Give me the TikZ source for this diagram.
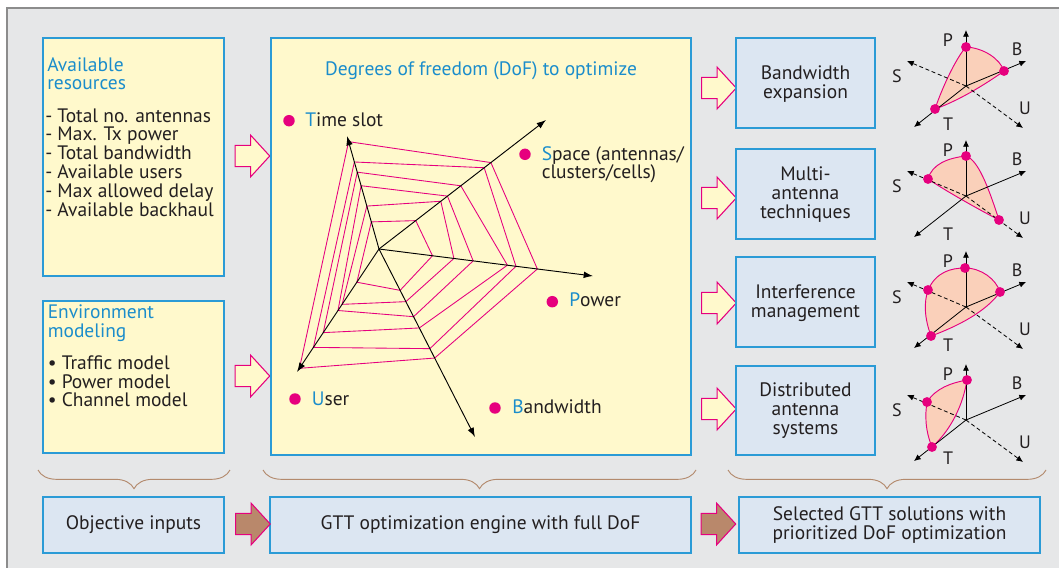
\documentclass[tikz,border=0pt]{standalone}
\usepackage{fontspec}
\setmainfont{PT Sans}
\usetikzlibrary{positioning, calc, arrows.meta, shapes.arrows, decorations.pathreplacing}

\definecolor{bggray}{HTML}{E6E7E8}
\definecolor{framegray}{HTML}{8C8C8C}
\definecolor{paleyellow}{HTML}{FFF9CC}
\definecolor{boxblue}{HTML}{2B9BD6}
\definecolor{txtblue}{HTML}{1B8DCB}
\definecolor{paleblue}{HTML}{DCE6F2}
\definecolor{webpink}{HTML}{E6007E}
\definecolor{peach}{HTML}{FAD0BA}
\definecolor{arrowbrown}{HTML}{B9886B}
\definecolor{bracebrown}{HTML}{B38A6D}
\definecolor{darktext}{HTML}{231F20}

\begin{document}
\begin{tikzpicture}[
        x=0.75pt, y=-0.75pt,
        font=\fontsize{14.6}{14.2}\selectfont,
        text=darktext,
        inbox/.style={draw=boxblue, fill=paleyellow, line width=1pt},
        outbox/.style={draw=boxblue, fill=paleblue, line width=1pt},
        boxtitle/.style={text=txtblue, anchor=base west, inner sep=0pt},
        boxline/.style={anchor=base west, inner sep=0pt},
        boxtext/.style={align=center, inner sep=0pt},
        blockarrow/.style={
            single arrow, draw=webpink, fill=paleyellow, line width=0.8pt,
            minimum height=26pt, inner xsep=0pt, inner ysep=7.6pt,
            single arrow head extend=7.6pt, single arrow tip angle=95,
            outer sep=0pt
        },
        stagearrow/.style={blockarrow, fill=arrowbrown},
        radaraxis/.style={draw=black, line width=0.7pt, -{Latex[length=7pt, width=5pt]}},
        web/.style={draw=webpink, line width=0.65pt},
        dof/.style={anchor=base west, inner sep=0pt},
        miniaxis/.style={draw=black, line width=0.6pt, -{Latex[length=5pt, width=4.5pt]}},
        minidash/.style={miniaxis, dash pattern=on 3pt off 2pt},
        region/.style={draw=webpink, fill=peach, line width=0.7pt},
        minilabel/.style={font=\fontsize{13.5}{13}\selectfont, inner sep=0pt},
        grouping/.style={
            draw=bracebrown, line width=0.7pt,
            decorate, decoration={brace, mirror, amplitude=14pt}
        }
    ]

        \useasboundingbox (0,0) rectangle (1059,567);
        \clip (0,0) rectangle (1059,567);

        % Background panel
        \draw[draw=framegray, line width=1.5pt, fill=bggray] (7,8) rectangle (1075,585);

        % Available resources
        \draw[inbox] (43,38) rectangle (224,276);
        \node[boxtitle] (restitle) at (47,71) {Available};
        \node[boxtitle] (restitle2) at (47,89.5) {resources};
        \foreach \txt [count=\k] in {Total no. antennas, Max. Tx power, Total bandwidth,
                Available users, Max allowed delay, Available backhaul}
            \node[boxline] (res\k) at (45,103.2+18.8*\k) {- \txt};

        % Environment modeling
        \draw[inbox] (43,301) rectangle (224,453);
        \node[boxtitle] (envtitle) at (47.5,318.5) {Environment};
        \node[boxtitle] (envtitle2) at (47.5,337) {modeling};
        \foreach \txt [count=\k] in {Traffic model, Power model, Channel model}
            \node[boxline] (env\k) at (47.5,350.5+18.8*\k) {\textbullet\ \txt};

        % Input arrows
        \node[blockarrow] (ia1) at (247.5,156) {};
        \node[blockarrow] (ia2) at (247.5,376) {};

        % Degrees of freedom box
        \draw[inbox] (271,38) rectangle (691,455);
        \node[text=txtblue, anchor=base, inner sep=0pt] (doftitle) at (481,75.5)
            {Degrees of freedom (DoF) to optimize};

        % Radar axes end points
        \coordinate (c) at (379,249);
        \coordinate (tT) at (347,136);
        \coordinate (tS) at (546,120);
        \coordinate (tP) at (593,276);
        \coordinate (tB) at (475,437);
        \coordinate (tU) at (297,372);

        % Web: fractions along T, S, P, B, U
        \foreach \ft/\fs/\fp/\fb/\fu in {0.95/0.67/0.74/0.58/0.97, 0.77/0.63/0.64/0.53/0.80,
                0.68/0.49/0.60/0.42/0.68, 0.56/0.41/0.44/0.36/0.50,
                0.38/0.37/0.35/0.28/0.45, 0.24/0.22/0.25/0.22/0.27}
            \draw[web] ($(c)!\ft!(tT)$) -- ($(c)!\fs!(tS)$) -- ($(c)!\fp!(tP)$)
                -- ($(c)!\fb!(tB)$) -- ($(c)!\fu!(tU)$) -- cycle;

        \foreach \t in {tT,tS,tP,tB,tU}
            \draw[radaraxis] (c) -- (\t);

        % DoF labels
        \fill[webpink] (289,120.7) circle (4.3pt);
        \node[dof] (time) at (305,126.5) {\textcolor{txtblue}{T}ime slot};
        \fill[webpink] (525,154.3) circle (4.3pt);
        \node[dof] (space) at (541.5,160) {\textcolor{txtblue}{S}pace (antennas/};
        \node[dof] (space2) at (541.5,178.5) {clusters/cells)};
        \fill[webpink] (552.3,301.7) circle (4.3pt);
        \node[dof] (power) at (569,306.7) {\textcolor{txtblue}{P}ower};
        \fill[webpink] (295,399) circle (4.3pt);
        \node[dof] (user) at (311.7,405) {\textcolor{txtblue}{U}ser};
        \fill[webpink] (495,408) circle (4.3pt);
        \node[dof] (bandw) at (512,413.3) {\textcolor{txtblue}{B}andwidth};

        % Output arrows
        \foreach \ay [count=\k] in {88,198,303,409}
            \node[blockarrow] (oa\k) at (714,\ay) {};

        % Technique boxes
        \draw[outbox] (736,38) rectangle (875,128);
        \node[boxtext] (bwexp) at (805.5,84) {Bandwidth\\expansion};
        \draw[outbox] (736,149) rectangle (875,239);
        \node[boxtext] (multi) at (805.5,194.5) {Multi-\\antenna\\techniques};
        \draw[outbox] (736,257) rectangle (875,347);
        \node[boxtext] (interf) at (805.5,303) {Interference\\management};
        \draw[outbox] (736,366) rectangle (875,455);
        \node[boxtext] (distr) at (805.5,411) {Distributed\\antenna\\systems};

        % Shaded regions of the small DoF diagrams
        \begin{scope}[shift={(966,86)}]
            \draw[region] (0,-39) .. controls (18,-38) and (34,-27) .. (38,-15)
                .. controls (20,-2) and (-8,15) .. (-31,23)
                .. controls (-24,2) and (-10,-28) .. (0,-39) -- cycle;
        \end{scope}
        \begin{scope}[shift={(966,196)}]
            \draw[region] (-38,-17) .. controls (-34,-32) and (-18,-38) .. (0,-40)
                .. controls (12,-36) and (22,-10) .. (33,24)
                .. controls (10,12) and (-20,-5) .. (-38,-17) -- cycle;
        \end{scope}
        \begin{scope}[shift={(966,307)}]
            \draw[region] (-38,-17) .. controls (-30,-35) and (-15,-39) .. (-1,-39)
                .. controls (15,-39) and (30,-28) .. (34,-15)
                .. controls (20,5) and (-10,20) .. (-35,29)
                .. controls (-42,10) and (-42,-5) .. (-38,-17) -- cycle;
        \end{scope}
        \begin{scope}[shift={(966,420)}]
            \draw[region] (-39,-18) .. controls (-30,-32) and (-15,-37) .. (1,-40)
                .. controls (-3,-15) and (-15,10) .. (-34,27)
                .. controls (-41,10) and (-41,-5) .. (-39,-18) -- cycle;
        \end{scope}

        % Axes of the small DoF diagrams
        \foreach \oy [count=\i] in {86,196,307,420} {
            \coordinate (o\i) at (966,\oy);
            \draw[miniaxis] (o\i) -- ++(0,-56);
            \draw[miniaxis] (o\i) -- ++(60,-25);
            \draw[miniaxis] (o\i) -- ++(-52,41);
            \draw[minidash] (o\i) -- ++(-59,-25);
            \draw[minidash] (o\i) -- ++(57,42);
            \node[minilabel] (P\i) at ($(o\i)+(-18,-46)$) {P};
            \node[minilabel] (B\i) at ($(o\i)+(51,-37)$) {B};
            \node[minilabel] (S\i) at ($(o\i)+(-69,-10)$) {S};
            \node[minilabel] (U\i) at ($(o\i)+(59,22)$) {U};
            \node[minilabel] (T\i) at ($(o\i)+(-18,38)$) {T};
        }

        % Selected DoF points
        \foreach \px/\py in {966/47, 1004/71, 935/109, 966/156, 928/179, 999/220,
                965/268, 928/290, 1000/292, 931/336, 967/380, 927/402, 932/447}
            \fill[webpink] (\px,\py) circle (3.7pt);

        % Braces
        \draw[grouping] (38,470) -- (230,470);
        \draw[grouping] (263,470) -- (696,470);
        \draw[grouping] (728,470) -- (1046,470);

        % Stage boxes
        \draw[outbox] (43,497) rectangle (224,553);
        \node[boxtext] (objin) at (133.5,525) {Objective inputs};
        \draw[outbox] (270,497) rectangle (691,553);
        \node[boxtext] (engine) at (480.5,525) {GTT optimization engine with full DoF};
        \draw[outbox] (739,497) rectangle (1040,553);
        \node[boxtext] (select) at (889.5,525) {Selected GTT solutions with\\prioritized DoF optimization};

        % Stage arrows
        \node[stagearrow] (sa1) at (248,524) {};
        \node[stagearrow] (sa2) at (713.5,524) {};

    \end{tikzpicture}
\end{document}
